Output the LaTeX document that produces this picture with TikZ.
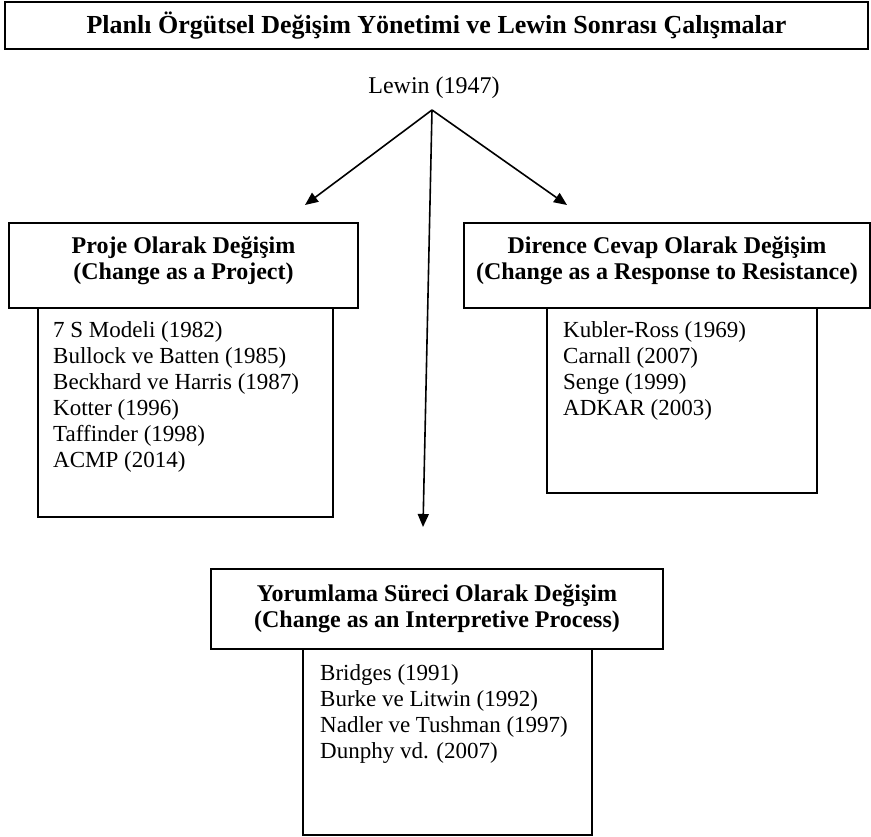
\documentclass[tikz,border=0pt]{standalone}
\usepackage{fontspec}
\setmainfont{Liberation Serif}
\usetikzlibrary{arrows.meta}
\begin{document}
\begin{tikzpicture}[x=1pt,y=-1pt,
  box/.style={draw, line width=1.6pt, inner sep=0pt, fill=white},
  hdr/.style={box, font=\bfseries\fontsize{24}{26}\selectfont, align=center},
  lst/.style={inner sep=0pt, anchor=north west, align=left, font=\fontsize{23}{26}\selectfont},
  arr/.style={line width=1.6pt, -{Triangle[length=13pt,width=11pt]}}]
\useasboundingbox (0,0) rectangle (871,837);
% title
\node[box, minimum width=863, minimum height=47, font=\bfseries\fontsize{26}{28}\selectfont] (title) at (436.5,25.5)
  {Planlı Örgütsel Değişim Yönetimi ve Lewin Sonrası Çalışmalar};
% Lewin
\node[inner sep=0pt, font=\fontsize{24}{26}\selectfont] (lewin) at (434,88) {Lewin (1947)};
\coordinate (lw) at (432,110);
\coordinate (tl) at (305,205);
\coordinate (tr) at (567,205);
\coordinate (tb) at (423,527);
% left
\node[box, minimum width=295, minimum height=209] (llist) at (185.5,412.5) {};
\node[hdr, minimum width=349, minimum height=85] (lhdr) at (183.5,265.5)
  {Proje Olarak Değişim\\(Change as a Project)\\[-11pt]\mbox{}};
\node[lst] (ltext) at (53,321) {7 S Modeli (1982)\\Bullock ve Batten (1985)\\Beckhard ve Harris (1987)\\Kotter (1996)\\Taffinder (1998)\\ACMP (2014)};
% right
\node[box, minimum width=270, minimum height=185] (rlist) at (682,400.5) {};
\node[hdr, minimum width=406, minimum height=85] (rhdr) at (667,265.5)
  {Dirence Cevap Olarak Değişim\\(Change as a Response to Resistance)\\[-11pt]\mbox{}};
\node[lst] (rtext) at (563,321) {Kubler-Ross (1969)\\Carnall (2007)\\Senge (1999)\\ADKAR (2003)};
% bottom
\node[box, minimum width=289, minimum height=186] (blist) at (447.5,742) {};
\node[hdr, minimum width=452, minimum height=80] (bhdr) at (437,609)
  {Yorumlama Süreci Olarak Değişim\\(Change as an Interpretive Process)};
\node[lst] (btext) at (320,664) {Bridges (1991)\\Burke ve Litwin (1992)\\Nadler ve Tushman (1997)\\Dunphy vd. (2007)};
% arrows
\draw[arr] (lw) -- (tl);
\draw[arr] (lw) -- (tr);
\draw[arr] (lw) -- (tb);
\end{tikzpicture}
\end{document}
